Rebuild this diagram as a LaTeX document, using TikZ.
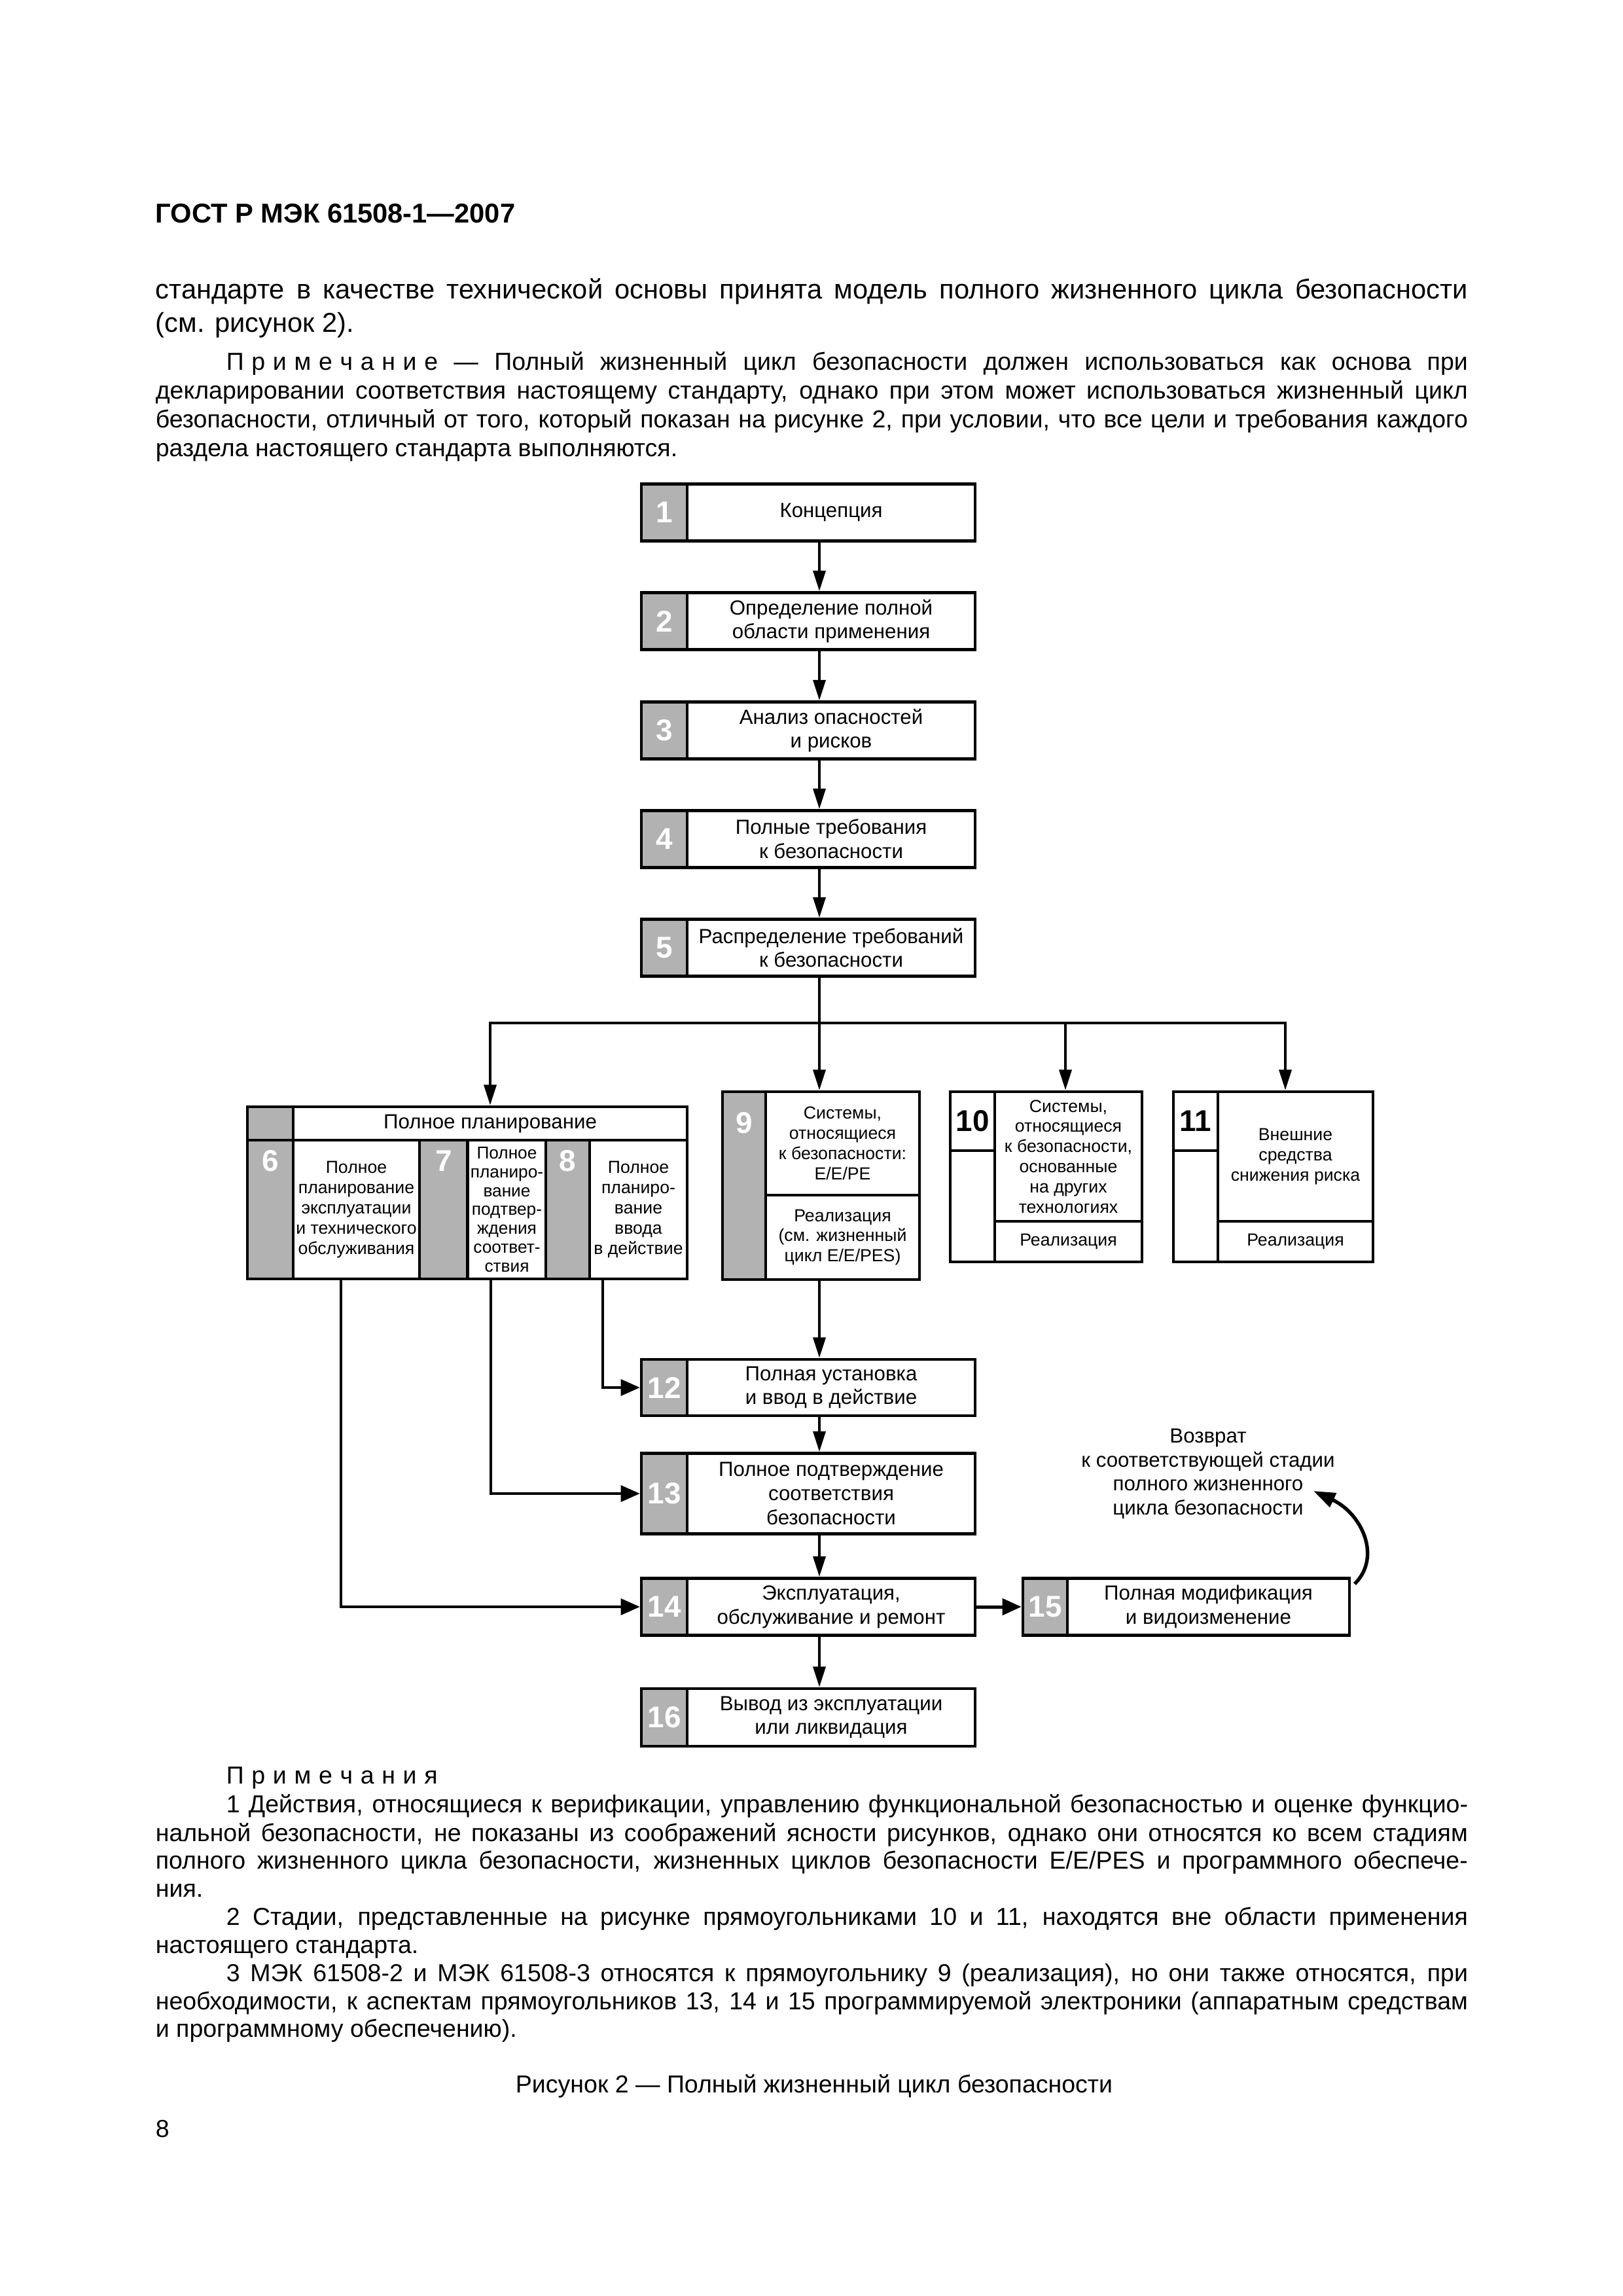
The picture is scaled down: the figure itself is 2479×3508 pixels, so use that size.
\documentclass[tikz,border=0pt]{standalone}
\usepackage{fontspec}
\setmainfont{Liberation Sans}
\usetikzlibrary{arrows.meta,positioning}
\definecolor{cellgray}{RGB}{178,178,178}
\newcommand\ls{\kern2.8pt}

\begin{document}
\begin{tikzpicture}[x=0.24pt,y=0.24pt,yscale=-1,xscale=1,
    wd/.style={minimum width=#1*0.24pt},
    ht/.style={minimum height=#1*0.24pt},
    txt/.style={inner sep=0pt, anchor=base west, font=\fontsize{10}{12}\selectfont},
    ntxt/.style={txt, font=\fontsize{9}{10.5}\selectfont},
    box/.style={draw, line width=1.1pt, inner sep=1pt, align=center, font=\fontsize{7.5}{8.8}\selectfont},
    sbox/.style={box, font=\fontsize{6.4}{7.4}\selectfont},
    nbox/.style={draw, line width=1.1pt, fill=cellgray, inner sep=0pt, text=white, font=\bfseries\fontsize{11}{11}\selectfont},
    numtxt/.style={inner sep=0pt, text=white, font=\bfseries\fontsize{11}{11}\selectfont},
    numk/.style={draw, line width=1.1pt, inner sep=0pt, font=\bfseries\fontsize{11}{11}\selectfont},
    arr/.style={line width=1pt, -{Triangle[length=7.5pt,width=4.5pt]}},
    side/.style={line width=0.8pt, -{Triangle[length=7pt,width=6pt]}},
  ]
  \useasboundingbox (0,0) rectangle (2479,3508);

  %Page text
  \node[txt] (hdr) at (237,341) {\bfseries ГОСТ Р МЭК 61508-1—2007};
  \node[txt] (b1) at (237,457) {\makebox[481.2pt][s]{стандарте в качестве технической основы принята модель полного жизненного цикла безопасности}};
  \node[txt] (b2) at (237,508) {(см. рисунок 2).};
  \node[ntxt] (p1) at (345,566) {\makebox[455.3pt][s]{П\ls р\ls и\ls м\ls е\ls ч\ls а\ls н\ls и\ls е — Полный жизненный цикл безопасности должен использоваться как основа при}};
  \node[ntxt] (p2) at (237,610) {\makebox[481.2pt][s]{декларировании соответствия настоящему стандарту, однако при этом может использоваться жизненный цикл}};
  \node[ntxt] (p3) at (237,654) {\makebox[481.2pt][s]{безопасности, отличный от того, который показан на рисунке 2, при условии, что все цели и требования каждого}};
  \node[ntxt] (p4) at (237,698) {раздела настоящего стандарта выполняются.};

  %Stages 1-5
  \coordinate (trunk) at (1252,0);
  \foreach \nr/\yc/\lbl in {1/783/{Концепция},
      2/949/{Определение полной\\области применения},
      3/1116/{Анализ опасностей\\и рисков},
      4/1282/{Полные требования\\к безопасности},
      5/1448/{Распределение требований\\к безопасности}}{
    \node[nbox, wd=70, ht=87] (n\nr) at (1015,\yc) {\nr};
    \node[box, wd=440, ht=87] (s\nr) at (1270,\yc) {\lbl};
  }
  \foreach \a/\b in {1/2,2/3,3/4,4/5}
    \draw[arr] (s\a.south -| trunk) -- (s\b.north -| trunk);

  %Overall planning 6-8
  \node[nbox, wd=70, ht=51] (ng) at (413,1716.5) {};
  \node[box, wd=602, ht=51] (ph) at (749,1716.5) {Полное планирование};
  \node[nbox, wd=70, ht=212] (g6) at (413,1848) {};
  \node[sbox, wd=193, ht=212] (t6) at (544.5,1848) {Полное\\планирование\\эксплуатации\\и технического\\обслуживания};
  \node[nbox, wd=74, ht=212] (g7) at (678,1848) {};
  \node[sbox, wd=119, ht=212, font=\fontsize{6.3}{6.9}\selectfont] (t7) at (774.5,1848) {Полное\\планиро-\\вание\\подтвер-\\ждения\\соответ-\\ствия};
  \node[nbox, wd=67, ht=212] (g8) at (867.5,1848) {};
  \node[sbox, wd=149, ht=212] (t8) at (975.5,1848) {Полное\\планиро-\\вание\\ввода\\в действие};
  \node[numtxt] (n6) at (413,1774) {6};
  \node[numtxt] (n7) at (678,1774) {7};
  \node[numtxt] (n8) at (867.5,1774) {8};

  %Realisation 9
  \node[nbox, wd=66, ht=287] (g9) at (1137,1811.5) {};
  \node[numtxt] (n9) at (1137,1716) {9};
  \node[sbox, wd=235, ht=158] (s9) at (1287.5,1747) {Системы,\\относящиеся\\к безопасности:\\E/E/PE};
  \node[sbox, wd=235, ht=129] (r9) at (1287.5,1890.5) {Реализация\\(см. жизненный\\цикл E/E/PES)};

  %Other technology 10, external risk reduction 11
  \node[numk, wd=68, ht=90] (n10) at (1486,1713) {10};
  \node[box, wd=68, ht=170] (e10) at (1486,1843) {};
  \node[sbox, wd=225, ht=198] (t10) at (1632.5,1767) {Системы,\\относящиеся\\к безопасности,\\основанные\\на других\\технологиях};
  \node[sbox, wd=225, ht=62] (r10) at (1632.5,1897) {Реализация};
  \node[numk, wd=68, ht=90] (n11) at (1827,1713) {11};
  \node[box, wd=68, ht=170] (e11) at (1827,1843) {};
  \node[sbox, wd=237, ht=198] (t11) at (1979.5,1767) {Внешние\\средства\\снижения риска};
  \node[sbox, wd=237, ht=62] (r11) at (1979.5,1897) {Реализация};

  %Branching
  \coordinate (fork) at (1252,1563);
  \coordinate (x10) at (1628,0);
  \coordinate (x11) at (1964,0);
  \draw[line width=1pt] (s5.south -| trunk) -- (fork);
  \draw[arr] (fork) -| (ph.north);
  \draw[arr] (fork) -| (t11.north -| x11);
  \draw[arr] (fork) -- (s9.north -| trunk);
  \draw[arr] (x10 |- fork) -- (t10.north -| x10);

  %Stages 12-16
  \foreach \nr/\yc/\h/\lbl in {12/2120/86/{Полная установка\\и ввод в действие},
      13/2282/123/{Полное подтверждение\\соответствия\\безопасности},
      14/2455/87/{Эксплуатация,\\обслуживание и ремонт},
      16/2624/88/{Вывод из эксплуатации\\или ликвидация}}{
    \node[nbox, wd=70, ht=\h] (n\nr) at (1015,\yc) {\nr};
    \node[box, wd=440, ht=\h] (s\nr) at (1270,\yc) {\lbl};
  }
  \node[nbox, wd=68, ht=87] (n15) at (1597,2455) {15};
  \node[box, wd=431, ht=87] (s15) at (1846.5,2455) {Полная модификация\\и видоизменение};

  \draw[arr] (r9.south -| trunk) -- (s12.north -| trunk);
  \foreach \a/\b in {12/13,13/14,14/16}
    \draw[arr] (s\a.south -| trunk) -- (s\b.north -| trunk);
  \draw[line width=1.2pt, -{Triangle[length=7pt,width=6pt]}] (s14.east) -- (n15.west);

  %Planning outputs
  \coordinate (x6) at (521,0);
  \coordinate (x7) at (750,0);
  \coordinate (x8) at (921,0);
  \draw[side] (t6.south -| x6) |- (n14.west);
  \draw[side] (t7.south -| x7) |- (n13.west);
  \draw[side] (t8.south -| x8) |- (n12.west);

  %Return
  \node[box, draw=none] (back) at (1846,2252) {Возврат\\к соответствующей стадии\\полного жизненного\\цикла безопасности};
  \coordinate (ret0) at (2070,2420);
  \coordinate (ret1) at (2007,2278);
  \draw[line width=1.3pt, -{Triangle[length=8pt,width=5.5pt]}] (ret0) .. controls (2112,2378) and (2080,2312) .. (ret1);

  %Notes
  \node[ntxt] (q0) at (345,2725) {П\ls р\ls и\ls м\ls е\ls ч\ls а\ls н\ls и\ls я};
  \node[ntxt] (q1) at (345,2769) {\makebox[455.3pt][s]{1 Действия, относящиеся к верификации, управлению функциональной безопасностью и оценке функцио-}};
  \node[ntxt] (q2) at (237,2813) {\makebox[481.2pt][s]{нальной безопасности, не показаны из соображений ясности рисунков, однако они относятся ко всем стадиям}};
  \node[ntxt] (q3) at (237,2855) {\makebox[481.2pt][s]{полного жизненного цикла безопасности, жизненных циклов безопасности E/E/PES и программного обеспече-}};
  \node[ntxt] (q4) at (237,2898) {ния.};
  \node[ntxt] (q5) at (345,2941) {\makebox[455.3pt][s]{2 Стадии, представленные на рисунке прямоугольниками 10 и 11, находятся вне области применения}};
  \node[ntxt] (q6) at (237,2984) {настоящего стандарта.};
  \node[ntxt] (q7) at (345,3027) {\makebox[455.3pt][s]{3 МЭК 61508-2 и МЭК 61508-3 относятся к прямоугольнику 9 (реализация), но они также относятся, при}};
  \node[ntxt] (q8) at (237,3070) {\makebox[481.2pt][s]{необходимости, к аспектам прямоугольников 13, 14 и 15 программируемой электроники (аппаратным средствам}};
  \node[ntxt] (q9) at (237,3112) {и программному обеспечению).};
  \node[ntxt, anchor=base] (cap) at (1244,3197) {Рисунок 2 — Полный жизненный цикл безопасности};
  \node[ntxt] (pg) at (237,3265) {8};
\end{tikzpicture}
\end{document}
